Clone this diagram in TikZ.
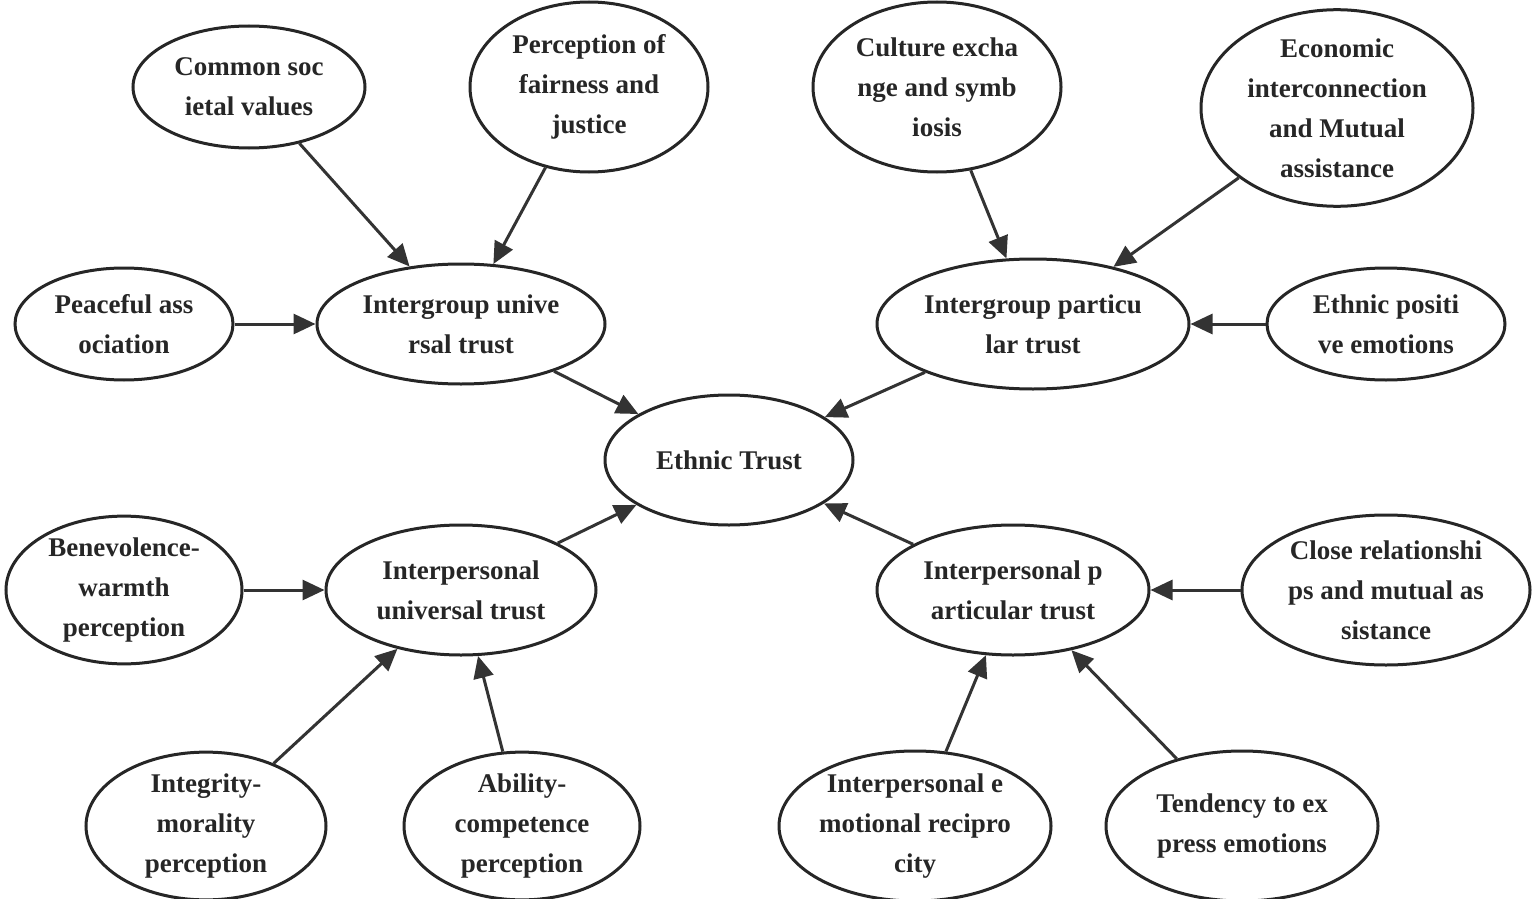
\documentclass[tikz,border=0pt]{standalone}
\usepackage{fontspec}
\setmainfont{Liberation Serif}
\usetikzlibrary{shapes.geometric,arrows.meta}
\begin{document}
\begin{tikzpicture}[x=1pt,y=-1pt,
  el/.style={ellipse,draw=black!85,line width=3pt,inner sep=0pt,align=center,
    font=\fontsize{27}{40}\selectfont\bfseries,text=black!85},
  ar/.style={-{Triangle[length=22pt,width=20pt]},line width=3pt,draw=black!80}]
\useasboundingbox (0,0) rectangle (1535,899);
\def\E#1#2#3#4#5#6{\node[el,minimum width=#4pt,minimum height=#5pt] (#1) at (#2,#3) {#6};}
\E{cs}{249}{87}{232}{122}{Common soc\\ietal values}
\E{pf}{589}{87}{238}{170}{Perception of\\fairness and\\justice}
\E{ce}{937}{87}{248}{170}{Culture excha\\nge and symb\\iosis}
\E{ec}{1337}{108}{272}{160}{Economic\\interconnection\\and Mutual\\assistance}
\E{pa}{124}{324}{218}{112}{Peaceful ass\\ociation}
\E{iu}{461}{324}{288}{120}{Intergroup unive\\rsal trust}
\E{ip}{1033}{324}{312}{130}{Intergroup particu\\lar trust}
\E{ep}{1386}{324}{238}{112}{Ethnic positi\\ve emotions}
\E{et}{729}{460}{248}{130}{Ethnic Trust}
\E{bw}{124}{590}{236}{140}{Benevolence-\\warmth\\perception}
\E{pu}{461}{590}{270}{130}{Interpersonal\\universal trust}
\E{pp}{1013}{590}{272}{130}{Interpersonal p\\articular trust}
\E{cr}{1386}{590}{288}{150}{Close relationshi\\ps and mutual as\\sistance}
\E{im}{206}{826}{240}{130}{Integrity-\\morality\\perception}
\E{ab}{522}{826}{236}{130}{Ability-\\competence\\perception}
\E{ie}{915}{826}{272}{150}{Interpersonal e\\motional recipro\\city}
\E{te}{1242}{826}{272}{150}{Tendency to ex\\press emotions}
\draw[ar] (cs) -- (iu);
\draw[ar] (pf) -- (iu);
\draw[ar] (pa) -- (iu);
\draw[ar] (iu) -- (et);
\draw[ar] (ce) -- (ip);
\draw[ar] (ec) -- (ip);
\draw[ar] (ep) -- (ip);
\draw[ar] (ip) -- (et);
\draw[ar] (bw) -- (pu);
\draw[ar] (im) -- (pu);
\draw[ar] (ab) -- (pu);
\draw[ar] (pu) -- (et);
\draw[ar] (cr) -- (pp);
\draw[ar] (ie) -- (pp);
\draw[ar] (te) -- (pp);
\draw[ar] (pp) -- (et);
\end{tikzpicture}
\end{document}
